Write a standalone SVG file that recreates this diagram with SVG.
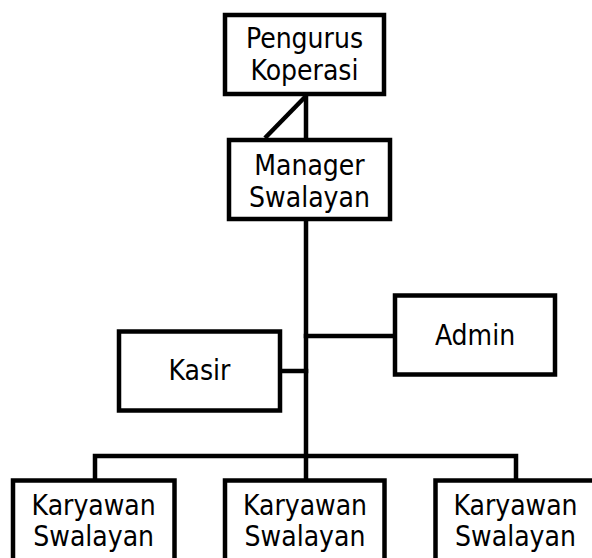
<svg xmlns="http://www.w3.org/2000/svg" width="592" height="558" viewBox="0 0 592 558">
<style>
.box{fill:#fff;stroke:#000;stroke-width:4.5}
.ln{stroke:#000;stroke-width:4.5;fill:none;stroke-linecap:square}
text{font-family:"DejaVu Sans Condensed","DejaVu Sans",sans-serif;font-stretch:condensed;font-size:28px;fill:#000;text-anchor:middle}
</style>
<rect width="592" height="558" fill="#fff"/>
<g id="connectors">
<line class="ln" x1="306" y1="95" x2="306" y2="480"/>
<line class="ln" x1="306" y1="96" x2="265" y2="138" style="stroke-linecap:butt"/>
<line class="ln" x1="306" y1="336" x2="395" y2="336"/>
<line class="ln" x1="280" y1="371" x2="306" y2="371"/>
<polyline class="ln" points="95,480 95,456 516,456 516,480"/>
</g>
<g id="pengurus">
<rect class="box" x="225" y="15" width="159" height="79"/>
<text x="304.5" y="47.5">Pengurus</text>
<text x="304.5" y="80">Koperasi</text>
</g>
<g id="manager">
<rect class="box" x="229" y="140" width="161" height="79"/>
<text x="309.5" y="174.5">Manager</text>
<text x="309.5" y="207">Swalayan</text>
</g>
<g id="admin">
<rect class="box" x="395" y="295.5" width="160" height="79"/>
<text x="475" y="345">Admin</text>
</g>
<g id="kasir">
<rect class="box" x="119" y="331.5" width="161" height="79"/>
<text x="199.5" y="380">Kasir</text>
</g>
<g id="karyawan1">
<rect class="box" x="13" y="480.5" width="161.5" height="100"/>
<text x="93.7" y="514.5">Karyawan</text>
<text x="93.7" y="545.5">Swalayan</text>
</g>
<g id="karyawan2">
<rect class="box" x="225" y="480.5" width="159.5" height="100"/>
<text x="305" y="514.5">Karyawan</text>
<text x="305" y="545.5">Swalayan</text>
</g>
<g id="karyawan3">
<rect class="box" x="435.5" y="480.5" width="161" height="100"/>
<text x="515.5" y="514.5">Karyawan</text>
<text x="515.5" y="545.5">Swalayan</text>
</g>
</svg>
